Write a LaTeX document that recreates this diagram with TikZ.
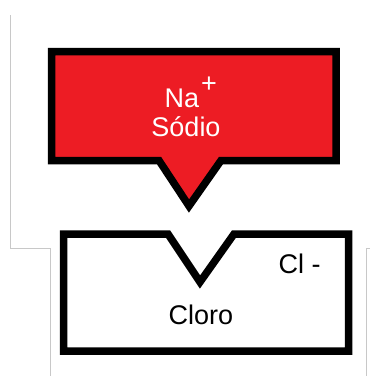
\documentclass[tikz,border=0pt]{standalone}
\usepackage{fontspec}
\setmainfont{Liberation Sans}
\usepackage{tikz}
\usetikzlibrary{positioning}
\definecolor{paintred}{RGB}{237,28,36}
\definecolor{framegray}{RGB}{200,200,200}
\tikzset{
  ionshape/.style={draw=black, line width=7.5pt, miter limit=10},
  ionlabel/.style={inner sep=0pt, font=\fontsize{27}{30}\selectfont},
  edgeline/.style={draw=framegray, line width=1pt},
}

\begin{document}
\begin{tikzpicture}[x=1pt, y=-1pt]
  \useasboundingbox (0,0) rectangle (370,376);
  % faint frame lines
  \draw[edgeline] (10.5,15) -- (10.5,248) -- (50.5,248) -- (50.5,376);
  \draw[edgeline] (370,248) -- (366.5,248) -- (366.5,376);
  % sodium
  \draw[ionshape, fill=paintred] (51.5,51.5) -- (336,51.5) -- (336,160.5) -- (221,160.5)
    -- (189,206) -- (159,160.5) -- (51.5,160.5) -- cycle;
  % chlorine
  \draw[ionshape, fill=white] (63.5,234) -- (168,234) -- (200,282) -- (234,234)
    -- (348.5,234) -- (348.5,351) -- (63.5,351) -- cycle;
  \node[ionlabel, text=white, anchor=base west] (na) at (164.5,107)
    {Na\kern2pt\raisebox{15pt}{+}};
  \node[ionlabel, text=white, anchor=base] (sodio) at (186,136) {Sódio};
  \node[ionlabel, anchor=base west] (cl) at (278.5,273) {Cl -};
  \node[ionlabel, anchor=base] (cloro) at (201,324) {Cloro};
\end{tikzpicture}
\end{document}
